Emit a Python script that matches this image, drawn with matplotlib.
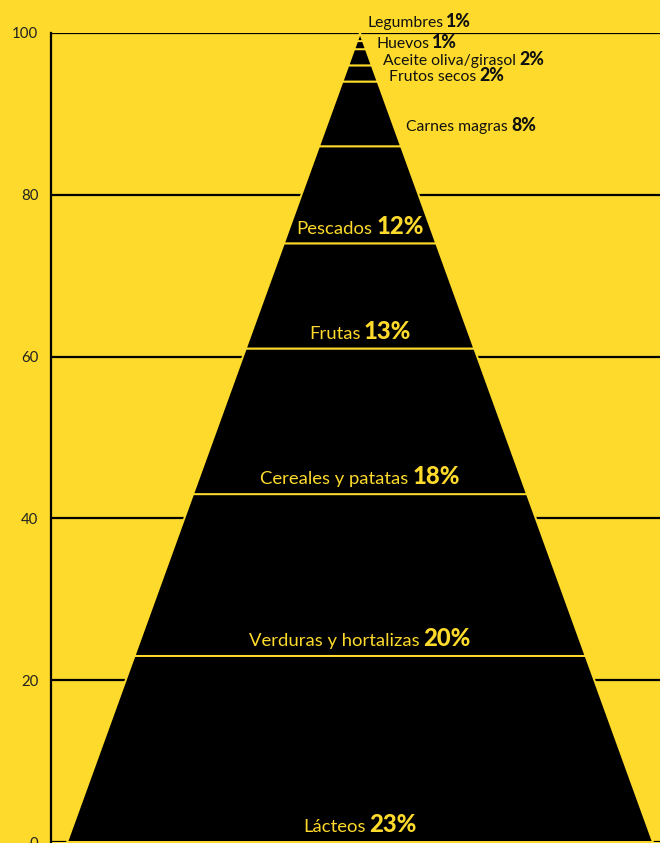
import matplotlib
matplotlib.use("Agg")
import matplotlib.pyplot as plt
from matplotlib.patches import Polygon
from matplotlib.transforms import ScaledTranslation

# ---- data ----
categories = ["Lácteos", "Verduras y hortalizas", "Cereales y patatas", "Frutas",
              "Pescados", "Carnes magras", "Frutos secos", "Aceite oliva/girasol",
              "Huevos", "Legumbres"]
values = [23, 20, 18, 13, 12, 8, 2, 2, 1, 1]
pct_labels = ["23%", "20%", "18%", "13%", "12%", "8%", "2%", "2%", "1%", "1%"]
yticks = [0, 20, 40, 60, 80, 100]

# ---- style ----
BG = "#FDDA2B"
INK = "#000000"
plt.rcParams['font.family'] = ['Lato', 'DejaVu Sans']

W, H, DPI = 660, 843, 100
fig = plt.figure(figsize=(W / DPI, H / DPI), dpi=DPI, facecolor=BG)
ax = fig.add_axes([51 / W, 1 / H, 1 - 51 / W, (842 - 33) / H])
ax.set_facecolor(BG)
ax.set_xlim(-1.055, 1.024)
ax.set_ylim(0, 100)

for s in ["top", "right", "bottom"]:
    ax.spines[s].set_visible(False)
ax.spines["left"].set_color(INK)
ax.spines["left"].set_linewidth(1.6)
ax.set_xticks([])
ax.set_yticks(yticks)
ax.tick_params(axis="y", length=0, pad=9, labelsize=10.8, labelcolor="#222222")
for t in yticks:
    ax.axhline(t, color=INK, lw=1.6, zorder=1)

total = sum(values)
def hw(y):
    return 1 - y / total

# ---- pyramid ----
bottoms = []
b = 0
for v in values:
    bottoms.append(b)
    top = b + v
    poly = Polygon([(-hw(b), b), (hw(b), b), (hw(top), top), (-hw(top), top)],
                   closed=True, facecolor=INK, edgecolor=BG, lw=1.4, zorder=2,
                   joinstyle="miter")
    ax.add_patch(poly)
    b = top

# ---- labels ----
items = []
def label(x, y, name, pct, ns, ps, color, align):
    t1 = ax.text(x, y, name, fontsize=ns, color=color, va="baseline", ha="left", zorder=5)
    t2 = ax.text(x, y, pct, fontsize=ps, fontweight=900, color=color,
                 va="baseline", ha="left", zorder=5)
    items.append((t1, t2, align, ns))

inside_n = 5
for i in range(inside_n):
    label(0, bottoms[i] + 1.2, categories[i], pct_labels[i], 13.3, 17.2, BG, "center")

outside_x = [0.157, 0.099, 0.078, 0.055, 0.024]
outside_dy = [1.9, 0.05, 0.05, 0.2, 1.7]
for k, i in enumerate(range(inside_n, len(values))):
    label(outside_x[k], bottoms[i] + outside_dy[k], categories[i], pct_labels[i],
          11.3, 12.8, "#111111", "left")

fig.canvas.draw()
r = fig.canvas.get_renderer()
for t1, t2, align, ns in items:
    w1 = t1.get_window_extent(r).width
    w2 = t2.get_window_extent(r).width
    gap = ns * 0.2 * DPI / 72
    total_w = w1 + gap + w2
    start = -total_w / 2 if align == "center" else 0
    t1.set_transform(ax.transData + ScaledTranslation(start / DPI, 0, fig.dpi_scale_trans))
    t2.set_transform(ax.transData + ScaledTranslation((start + w1 + gap) / DPI, 0, fig.dpi_scale_trans))

fig.savefig("out.png", dpi=DPI, facecolor=BG)
